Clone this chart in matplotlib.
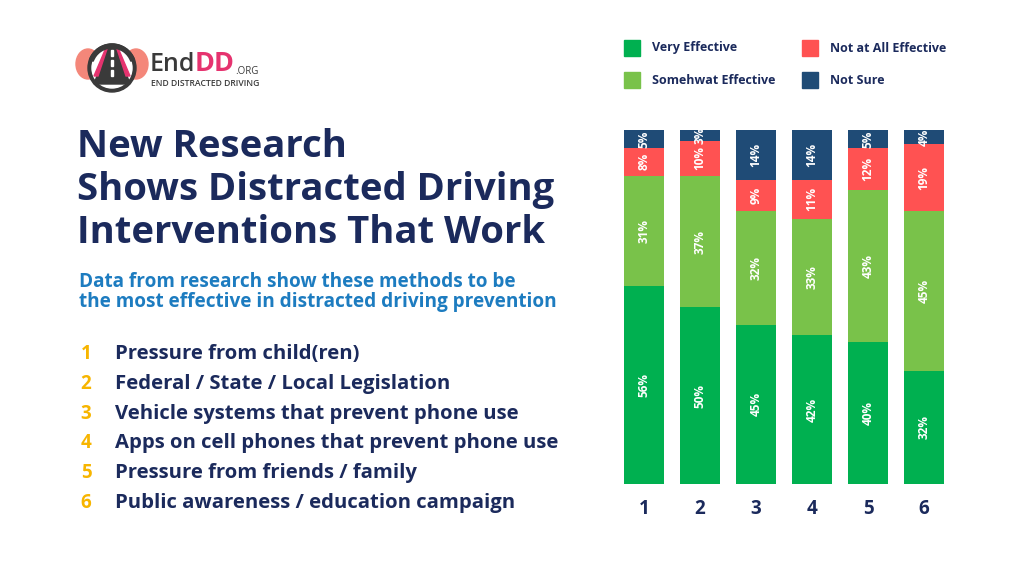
import numpy as np
import matplotlib.pyplot as plt
from matplotlib.patches import Rectangle, Ellipse, Polygon, Circle, Wedge

# Data
categories = ['1', '2', '3', '4', '5', '6']
very_effective = [56, 50, 45, 42, 40, 32]
somewhat_effective = [31, 37, 32, 33, 43, 45]
not_at_all = [8, 10, 9, 11, 12, 19]
not_sure = [5, 3, 14, 14, 5, 4]
series_names = ['Very Effective', 'Somehwat Effective', 'Not at All Effective', 'Not Sure']
interventions = [
    'Pressure from child(ren)',
    'Federal / State / Local Legislation',
    'Vehicle systems that prevent phone use',
    'Apps on cell phones that prevent phone use',
    'Pressure from friends / family',
    'Public awareness / education campaign',
]
title_lines = ['New Research', 'Shows Distracted Driving', 'Interventions That Work']
subtitle_lines = ['Data from research show these methods to be',
                  'the most effective in distracted driving prevention']

colors = ['#00b050', '#79c24a', '#ff5252', '#1f4b76']
navy = '#1b2a5c'
blue = '#1d7cc0'
orange = '#f7b500'
logo_dark = '#3a3a3a'
logo_pink = '#e6336f'
FONT = 'Open Sans'

W, H = 1024, 576
fig = plt.figure(figsize=(W / 100, H / 100), dpi=100, facecolor='white')


def fx(x):
    return x / W


def fy(y):
    return 1 - y / H


# Stacked bars
ax = fig.add_axes([fx(616), fy(484), 336 / W, 354 / H])
x = np.arange(1, len(categories) + 1)
series = [very_effective, somewhat_effective, not_at_all, not_sure]
bottom = np.zeros(len(categories))
for vals, col in zip(series, colors):
    vals = np.array(vals)
    ax.bar(x, vals, width=40 / 56, bottom=bottom, color=col, edgecolor='none')
    for xi, b, v in zip(x, bottom, vals):
        ax.text(xi, b + v / 2, f'{v}%', rotation=90, ha='center', va='center',
                color='white', fontsize=8.5, fontweight='bold', family=FONT)
    bottom += vals
ax.set_xlim(0.5, 6.5)
ax.set_ylim(0, 100)
ax.set_xticks(x)
ax.set_xticklabels(categories, fontsize=13.5, fontweight='bold', color=navy, family=FONT)
ax.tick_params(axis='x', length=0, pad=11)
ax.set_yticks([])
for s in ax.spines.values():
    s.set_visible(False)

# Legend
leg_pos = [(624, 48), (624, 80), (802, 48), (802, 80)]
for (lx, ly), name, col in zip(leg_pos, series_names, colors):
    fig.patches.append(Rectangle((fx(lx), fy(ly + 8)), 16 / W, 16 / H, color=col,
                                 transform=fig.transFigure))
    fig.text(fx(lx + 28), fy(ly), name, ha='left', va='center', fontsize=9,
             fontweight='bold', color=navy, family=FONT)

# Title and subtitle
for i, line in enumerate(title_lines):
    fig.text(fx(77), fy(157 + i * 43), line, ha='left', va='baseline', fontsize=27.5,
             fontweight='bold', color=navy, family=FONT)
for i, line in enumerate(subtitle_lines):
    fig.text(fx(79), fy(287 + i * 20.5), line, ha='left', va='baseline', fontsize=13.7,
             fontweight='bold', color=blue, family=FONT)

# Numbered list
for i, item in enumerate(interventions):
    yy = 359 + i * 29.8
    fig.text(fx(86), fy(yy), str(i + 1), ha='center', va='baseline', fontsize=13.5,
             fontweight='bold', color=orange, family=FONT)
    fig.text(fx(115), fy(yy), item, ha='left', va='baseline', fontsize=14.6,
             fontweight='bold', color=navy, family=FONT)

# Logo
lax = fig.add_axes([fx(74), fy(98), 76 / W, 62 / H])
lax.set_xlim(0, 76)
lax.set_ylim(62, 0)
lax.set_aspect('equal')
lax.axis('off')
lax.add_patch(Ellipse((14, 28), 24, 30, color='#f4877a'))
lax.add_patch(Ellipse((62, 28), 24, 30, color='#f4877a'))
lax.add_patch(Circle((38, 32), 24, color=logo_dark))
lax.add_patch(Circle((38, 32), 20, color='white'))
lax.add_patch(Polygon([(34, 10), (42, 10), (56, 48), (20, 48)], color=logo_dark))
lax.add_patch(Polygon([(31, 14), (34, 10), (24, 40), (20, 40)], color=logo_pink))
lax.add_patch(Polygon([(45, 14), (42, 10), (52, 40), (56, 40)], color=logo_pink))
for yy in [14, 24, 34]:
    lax.add_patch(Rectangle((37, yy), 2, 6, color='white'))
lax.add_patch(Wedge((38, 32), 24, 200, 340, width=4, color=logo_dark))

t_end = fig.text(fx(150), fy(71), 'End', ha='left', va='baseline', fontsize=18,
                 color=logo_dark, family=FONT, fontweight='semibold')
t_dd = lax.annotate('DD', xy=(1, 0), xycoords=t_end, xytext=(-0.5, 0),
                    textcoords='offset points', ha='left', va='bottom', fontsize=19.5,
                    color=logo_pink, family=FONT, fontweight='bold', annotation_clip=False)
lax.annotate('.ORG', xy=(1, 0), xycoords=t_dd, xytext=(0.3, 0),
             textcoords='offset points', ha='left', va='bottom', fontsize=7,
             color=logo_dark, family=FONT, annotation_clip=False)
fig.text(fx(151), fy(83), 'END DISTRACTED DRIVING', ha='left', va='center', fontsize=6.2,
         color=logo_dark, family=FONT, fontweight='semibold')

fig.savefig('out.png', dpi=100, facecolor='white')
